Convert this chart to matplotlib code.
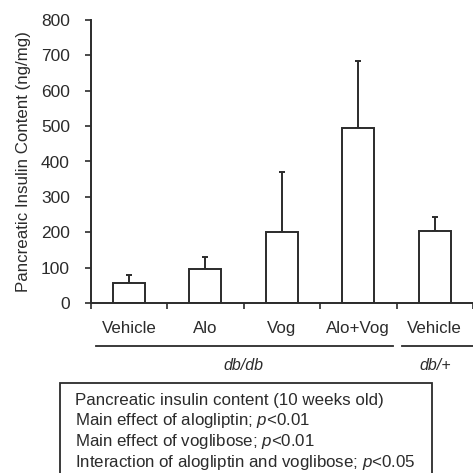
import numpy as np
import matplotlib
matplotlib.use('Agg')
import matplotlib.pyplot as plt
import matplotlib.transforms as mtransforms
from matplotlib.patches import Rectangle

plt.rcParams['font.family'] = ['Liberation Sans', 'DejaVu Sans']
plt.rcParams['mathtext.fontset'] = 'custom'
plt.rcParams['mathtext.it'] = 'Liberation Sans:italic'
plt.rcParams['mathtext.rm'] = 'Liberation Sans'

# data
groups = ['Vehicle', 'Alo', 'Vog', 'Alo+Vog', 'Vehicle']
insulin = [57, 95, 201, 495, 204]
insulin_err = [23, 36, 168, 189, 38]
strain_labels = ['db/db', 'db/+']
box_lines = ['Pancreatic insulin content (10 weeks old)',
             'Main effect of alogliptin; $p$<0.01',
             'Main effect of voglibose; $p$<0.01',
             'Interaction of alogliptin and voglibose; $p$<0.05']

ink = '#2b2b2b'
W = 473
fig = plt.figure(figsize=(4.73, 4.73), dpi=100)
ax = fig.add_axes([90.7/W, 1-303/W, 1-90.7/W, 283/W])

x = np.arange(len(groups))
ax.bar(x, insulin, width=0.42, color='white', edgecolor=ink, linewidth=1.4, zorder=2)
ax.errorbar(x, insulin, yerr=[np.zeros(len(insulin)), insulin_err], fmt='none',
            ecolor=ink, elinewidth=1.4, capsize=2.5, capthick=1.4, zorder=1)

ax.set_xlim(-0.5, 4.36)
ax.set_ylim(0, 800)
ax.set_yticks(range(0, 801, 100))
ax.set_xticks(np.arange(-0.5, 4.6, 1.0))
ax.set_xticklabels([])
ax.set_xticks(x, minor=True)
ax.set_xticklabels(groups, minor=True)
ax.tick_params(axis='x', which='minor', length=0, pad=13, labelsize=12.2, labelcolor=ink)
ax.tick_params(axis='x', which='major', length=4, width=1.2, color=ink)
ax.tick_params(axis='y', length=4, width=1.2, color=ink, labelsize=12.5, labelcolor=ink, pad=11)
for s in ['top', 'right']:
    ax.spines[s].set_visible(False)
for s in ['left', 'bottom']:
    ax.spines[s].set_color(ink)
    ax.spines[s].set_linewidth(1.4)
ax.set_ylabel('Pancreatic Insulin Content (ng/mg)', fontsize=12.2, color=ink, labelpad=7)

# group underlines and strain labels
tr = mtransforms.blended_transform_factory(ax.transData, ax.transAxes)
ax.plot([-0.43, 3.45], [-0.151, -0.151], color=ink, lw=1.3, transform=tr, clip_on=False)
ax.plot([3.57, 4.6], [-0.151, -0.151], color=ink, lw=1.3, transform=tr, clip_on=False)
ax.text(1.5, -0.22, strain_labels[0], style='italic', ha='center', va='center',
        fontsize=11.5, color=ink, transform=tr)
ax.text(4.0, -0.22, strain_labels[1], style='italic', ha='center', va='center',
        fontsize=11.5, color=ink, transform=tr)

# statistics box
fig.patches.append(Rectangle((60/W, -0.05), (432-60)/W, 1-383/W+0.05, fill=False,
                             edgecolor=ink, linewidth=1.3, transform=fig.transFigure))
for i, line in enumerate(box_lines):
    fig.text(75/W, 1-(400+20.7*i)/W, line, ha='left', va='center', fontsize=12.2, color=ink)

fig.savefig('out.png', dpi=100)
